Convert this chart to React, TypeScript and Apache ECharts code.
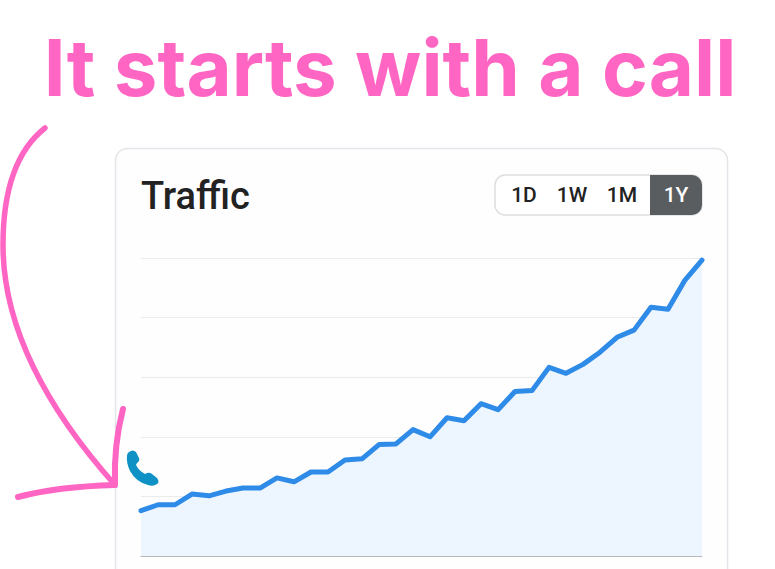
import React, { useEffect, useRef } from "react";
import * as echarts from "echarts";

const headline = "It starts with a call";
const chartTitle = "Traffic";
const ranges = ["1D", "1W", "1M", "1Y"];
const rangeCentres = [524, 572, 622, 676];
const categories = Array.from({ length: 34 }, (_, i) => `P${i + 1}`);
const traffic = [
  76, 86, 86, 104, 101, 109, 114, 114, 131, 124.5, 141, 141,
  161, 163, 187, 188, 212, 200, 232, 227, 255.5, 245.5, 276,
  277.5, 316.5, 306.5, 321.5, 342, 367, 379, 417.5, 414, 463, 496.5,
];

const PINK = "#ff66c4";
echarts.graphic.registerShape(
  "longArrow",
  echarts.graphic.extendPath("M45 128 C17 150 3 190 3 245 C3 330 50 412 115 485", {})
);
echarts.graphic.registerShape(
  "arrowHead",
  echarts.graphic.extendPath("M123 409 C117 432 114 458 115 485 C80 486 48 489 18 497", {})
);
echarts.graphic.registerShape(
  "phone",
  echarts.graphic.extendPath(
    "M129 452 Q133 449 136 452 L139 458 Q140 461 137 463 L136 465 Q139 471 145 474 L147 473 Q150 472 152 474 L157 478 Q160 482 157 484 Q153 487 148 485 Q136 482 130 471 Q126 462 127 456 Q127 453 129 452 Z",
    {}
  )
);

export default function App() {
  const ref = useRef<HTMLDivElement>(null);
  useEffect(() => {
    document.body.style.margin = "0";
    const chart = echarts.init(ref.current!, undefined, { renderer: "svg" });
    chart.setOption({
      animation: false,
      backgroundColor: "#ffffff",
      title: [
        {
          text: headline,
          left: 390,
          top: 28,
          padding: 0,
          textAlign: "center",
          textStyle: { color: PINK, fontFamily: "Inter", fontWeight: "bold", fontSize: 78 },
        },
        {
          text: chartTitle,
          left: 141,
          top: 177,
          padding: 0,
          textStyle: { color: "#222222", fontFamily: "Roboto", fontWeight: 500, fontSize: 38 },
        },
      ],
      grid: { left: 141, top: 258, width: 561, height: 298 },
      xAxis: {
        type: "category",
        data: categories,
        boundaryGap: false,
        axisTick: { show: false },
        axisLabel: { show: false },
        axisLine: { lineStyle: { color: "#b4b8bd", width: 1 } },
      },
      yAxis: {
        type: "value",
        min: 0,
        max: 500,
        interval: 100,
        axisLabel: { show: false },
        axisLine: { show: false },
        axisTick: { show: false },
        splitLine: { lineStyle: { color: "#e9ebef", width: 1 } },
      },
      series: [
        {
          type: "line",
          data: traffic,
          showSymbol: false,
          smooth: false,
          lineStyle: { color: "#2f8be8", width: 5, cap: "round", join: "round" },
          areaStyle: { color: "#edf5fe", opacity: 1 },
        },
      ],
      graphic: [
        {
          type: "rect",
          z: 0,
          shape: { x: 115.5, y: 148.5, width: 612, height: 460, r: 12 },
          style: { fill: "#fefefe", stroke: "#e3e5e9", lineWidth: 1.5 },
        },
        {
          type: "rect",
          z: 1,
          shape: { x: 495, y: 175, width: 207, height: 40, r: 10 },
          style: { fill: "#ffffff", stroke: "#dcdee1", lineWidth: 1.5 },
        },
        {
          type: "rect",
          z: 2,
          shape: { x: 650, y: 175, width: 52, height: 40, r: [0, 10, 10, 0] },
          style: { fill: "#5a5d5f" },
        },
        ...ranges.map((label, i) => ({
          type: "text",
          z: 3,
          x: rangeCentres[i],
          y: 195,
          style: {
            text: label,
            align: "center",
            verticalAlign: "middle",
            fill: i === 3 ? "#ffffff" : "#222222",
            fontFamily: "Roboto",
            fontWeight: 500,
            fontSize: 21,
          },
        })),
        {
          type: "longArrow",
          z: 10,
          style: { fill: "none", stroke: PINK, lineWidth: 5.5, lineCap: "round", lineJoin: "round" },
        },
        {
          type: "arrowHead",
          z: 10,
          style: { fill: "none", stroke: PINK, lineWidth: 6, lineCap: "round", lineJoin: "round" },
        },
        { type: "phone", z: 10, style: { fill: "#0e92c6" } },
      ],
    });
    return () => chart.dispose();
  }, []);
  return <div ref={ref} style={{ width: 775, height: 569 }} />;
}
